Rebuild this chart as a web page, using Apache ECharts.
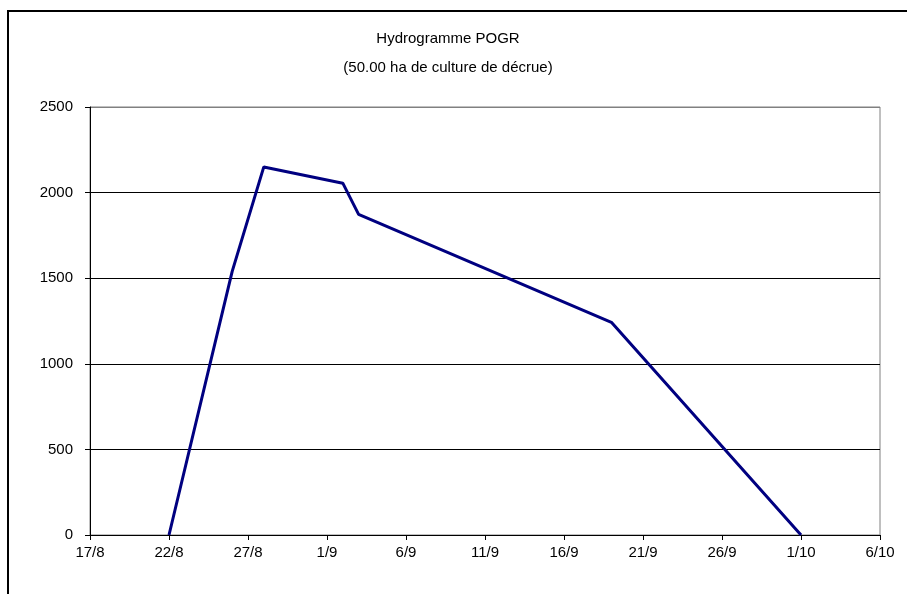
<!DOCTYPE html>
<html>
<head>
<meta charset="utf-8">
<script src="https://cdn.jsdelivr.net/npm/echarts@6/dist/echarts.min.js"></script>
<style>
html,body{margin:0;padding:0;background:#fff;}
#chart{width:907px;height:594px;}
</style>
</head>
<body>
<div id="chart"></div>
<script>
// ---- data ----
const titleLine1 = 'Hydrogramme POGR';
const titleLine2 = '(50.00 ha de culture de décrue)';
const dates = ['22/8', '26/8', '28/8', '2/9', '3/9', '19/9', '1/10'];
const flows = [0, 1540, 2150, 2055, 1873, 1242, 0];
const xStartLabel = '17/8';
const xEndLabel = '6/10';
const xStepDays = 5;
const yTicks = [0, 500, 1000, 1500, 2000, 2500];

// ---- helpers ----
const YEAR = 2001;
function toDate(s) { const p = s.split('/'); return new Date(YEAR, +p[1] - 1, +p[0]); }
const origin = toDate(xStartLabel);
function dayOffset(s) { return Math.round((toDate(s) - origin) / 86400000); }
function offsetLabel(v) {
  const d = new Date(origin.getTime() + v * 86400000);
  return d.getDate() + '/' + (d.getMonth() + 1);
}
const seriesData = dates.map((d, i) => [dayOffset(d), flows[i]]);
const xMax = dayOffset(xEndLabel);

const font = { fontFamily: '"Liberation Sans", Arial, sans-serif', fontSize: 15, color: '#000' };

const chart = echarts.init(document.getElementById('chart'), null, { renderer: 'canvas' });
chart.setOption({
  animation: false,
  backgroundColor: '#fff',
  title: [
    { text: titleLine1, left: 443, top: 26, textAlign: 'center',
      textStyle: Object.assign({ fontWeight: 'normal' }, font) },
    { text: titleLine2, left: 443, top: 55, textAlign: 'center',
      textStyle: Object.assign({ fontWeight: 'normal' }, font) }
  ],
  graphic: [{
    type: 'rect', silent: true, z: 100,
    shape: { x: 8, y: 11, width: 1000, height: 700 },
    style: { fill: null, stroke: '#000', lineWidth: 2 }
  }],
  grid: { left: 90, right: 27, top: 107, bottom: 59, show: true,
          borderColor: '#808080', borderWidth: 1, backgroundColor: '#fff' },
  xAxis: {
    type: 'value', min: 0, max: xMax, interval: xStepDays,
    axisLine: { show: true, onZero: false, lineStyle: { color: '#000', width: 1 } },
    axisTick: { show: true, length: 5, lineStyle: { color: '#000' } },
    axisLabel: Object.assign({ margin: 10, formatter: v => offsetLabel(v) }, font),
    splitLine: { show: false }
  },
  yAxis: {
    type: 'value', min: yTicks[0], max: yTicks[yTicks.length - 1], interval: yTicks[1] - yTicks[0],
    axisLine: { show: true, lineStyle: { color: '#000', width: 1 } },
    axisTick: { show: true, length: 5, lineStyle: { color: '#000' } },
    axisLabel: Object.assign({ margin: 17, formatter: v => String(v) }, font),
    splitLine: { show: true, lineStyle: { color: ['#000', '#000', '#000', '#000', '#000', '#808080'], width: 1 } }
  },
  series: [{
    type: 'line', data: seriesData, showSymbol: false, symbol: 'none',
    lineStyle: { color: '#000080', width: 3 }, clip: false
  }]
});
</script>
</body>
</html>
